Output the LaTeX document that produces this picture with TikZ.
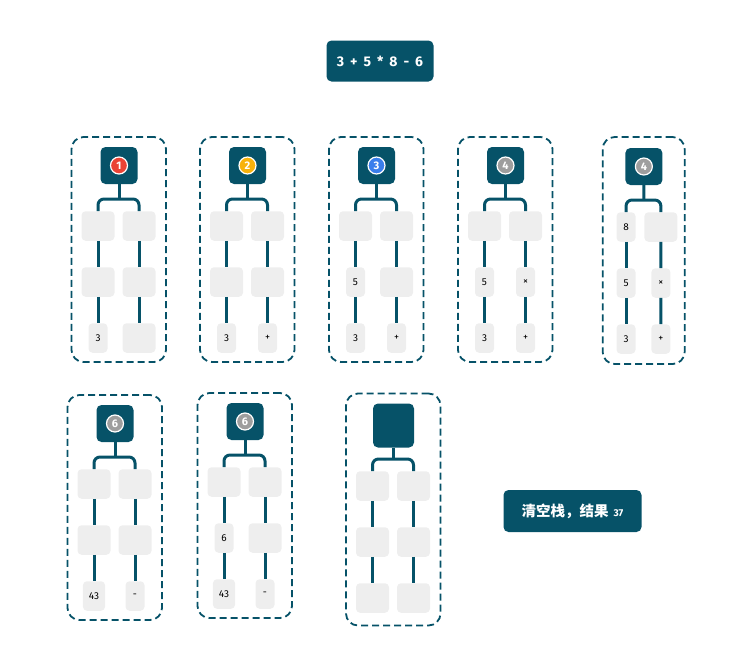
\documentclass[tikz,border=0pt]{standalone}
\usepackage{fontspec}
\setmainfont{Fira Sans}
\newfontfamily\cjk{Noto Sans CJK SC}
\definecolor{deepteal}{RGB}{6,82,104}
\definecolor{cellgray}{RGB}{238,238,238}
\definecolor{bred}{RGB}{234,67,53}
\definecolor{byellow}{RGB}{248,178,12}
\definecolor{bblue}{RGB}{58,126,236}
\definecolor{bgray}{RGB}{158,158,158}
\tikzset{
  stackframe/.style={draw=deepteal, line width=1.8pt, dash pattern=on 7pt off 4pt, rounded corners=12pt, minimum width=94.5pt, minimum height=225pt, inner sep=0pt},
  topbox/.style={fill=deepteal, rounded corners=5pt, minimum size=37pt, inner sep=0pt},
  badge/.style 2 args={label={[circle, fill=#1, draw=white, line width=1.2pt, text=white, font=\bfseries\fontsize{11}{11}\selectfont, inner sep=0pt, minimum size=17pt]center:#2}},
  cell/.style={fill=cellgray, rounded corners=4pt, minimum width=19pt, minimum height=29.5pt, inner xsep=6pt, inner ysep=0pt, font=\fontsize{10}{11}\selectfont},
  link/.style={draw=deepteal, line width=3pt},
  titlebox/.style={fill=deepteal, rounded corners=5pt, text=white, font=\bfseries\fontsize{14}{16}\selectfont}
}
\newcommand{\gap}{\hspace*{21pt}}
\newcommand{\stackpanel}[9]{%
  \begin{scope}[#2]
    \node[stackframe] (#1) at (47.25,112.5) {};
    \node[topbox,#3] (#1t) at (47.5,28.5) {};
    \node[cell] (#1l1) at (26.5,89) {#4};
    \node[cell] (#1r1) at (67.5,89) {#5};
    \node[cell] (#1l2) at (26.5,145) {#6};
    \node[cell] (#1r2) at (67.5,145) {#7};
    \node[cell] (#1l3) at (26.5,201) {#8};
    \node[cell] (#1r3) at (67.5,201) {#9};
    \coordinate (#1b) at (47.5,62);
    \draw[link] (#1t) -- (#1b);
    \draw[link, rounded corners=6pt] (#1l1) |- (#1b) -| (#1r1);
    \draw[link] (#1l1) -- (#1l2) -- (#1l3);
    \draw[link] (#1r1) -- (#1r2) -- (#1r3);
  \end{scope}}
\begin{document}
\begin{tikzpicture}[x=1pt,y=-1pt]
  \useasboundingbox (0,0) rectangle (745,662);
  \node[titlebox, minimum width=107pt, minimum height=41pt] (expr) at (380,61) {\spaceskip=6pt 3 + 5 * 8 - 6};
  \stackpanel{s1}{shift={(71.5,137)}}{badge={bred}{1}}{\gap}{\gap}{\gap}{\gap}{3}{\gap}
  \stackpanel{s2}{shift={(200,137)}}{badge={byellow}{2}}{\gap}{\gap}{\gap}{\gap}{3}{+}
  \stackpanel{s3}{shift={(329,137)}}{badge={bblue}{3}}{\gap}{\gap}{5}{\gap}{3}{+}
  \stackpanel{s4}{shift={(458,137)}}{badge={bgray}{4}}{\gap}{\gap}{5}{×}{3}{+}
  \stackpanel{s5}{shift={(603.5,138)}, xscale=0.85, stackframe/.append style={minimum width=82pt, minimum height=227pt}}{badge={bgray}{4}}{8}{\gap}{5}{×}{3}{+}
  \stackpanel{s6}{shift={(67.5,395)}}{badge={bgray}{6}}{\gap}{\gap}{\gap}{\gap}{43}{-}
  \stackpanel{s7}{shift={(197.5,393)}}{badge={bgray}{6}}{\gap}{\gap}{6}{\gap}{43}{-}
  \stackpanel{s8}{shift={(346,397)}, stackframe/.append style={minimum height=232pt}}{minimum width=41pt, minimum height=44pt}{\gap}{\gap}{\gap}{\gap}{\gap}{\gap}
  \node[titlebox, minimum width=138pt, minimum height=42pt] (result) at (572.5,511) {{\cjk\fontsize{14.5}{16}\selectfont 清空栈，结果}\hspace{5pt}{\fontsize{10}{10}\selectfont 37}};
\end{tikzpicture}
\end{document}
